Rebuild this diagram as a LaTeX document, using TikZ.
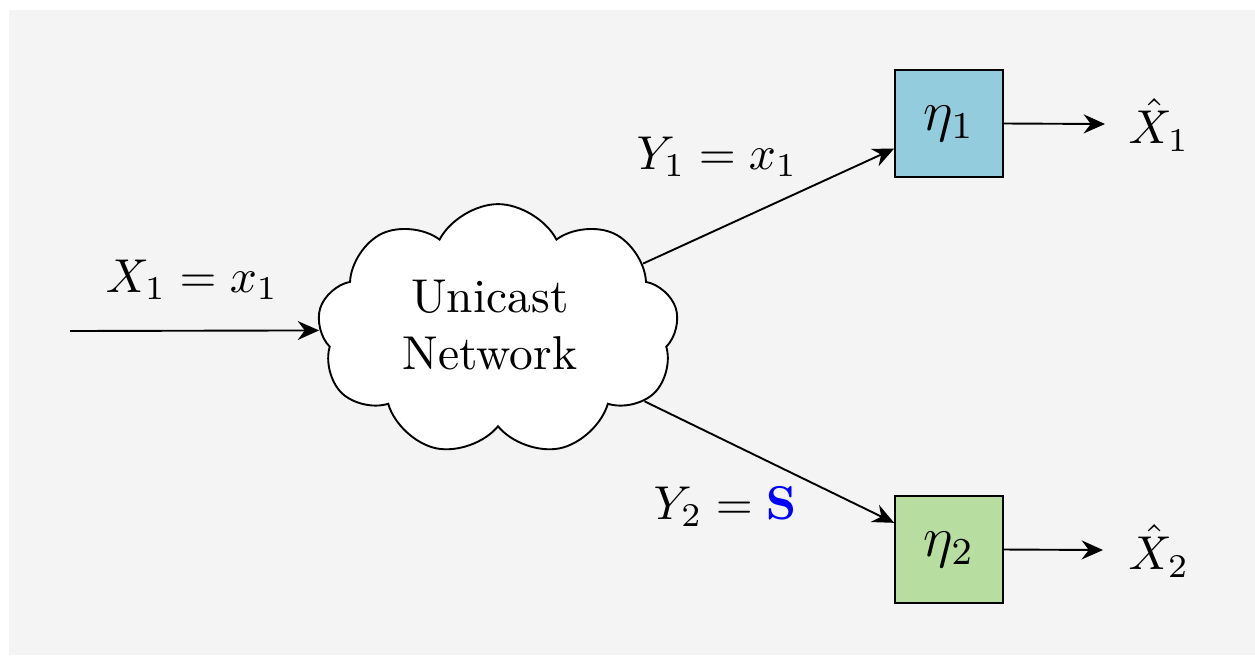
\documentclass[tikz,border=0pt]{standalone}
\usetikzlibrary{shapes.symbols,arrows.meta}
\definecolor{bgray}{RGB}{244,244,244}
\definecolor{boxblue}{RGB}{147,205,221}
\definecolor{boxgreen}{RGB}{183,221,160}
\begin{document}
\begin{tikzpicture}[x=0.2105pt,y=-0.2105pt,
  >={Stealth[length=4.5pt,width=4pt,inset=1.5pt]},
  blk/.style={draw, minimum width=22.7pt, minimum height=22.7pt, inner sep=0pt},
  lbl/.style={inner sep=0pt},
  link/.style={->, line width=0.4pt}]
\useasboundingbox (0,0) rectangle (1255,655);
\fill[bgray] (9,10) rectangle (1255,655);

% network cloud
\node[cloud, cloud puffs=9, cloud puff arc=125, cloud ignores aspect,
      draw, fill=white, minimum width=76pt, minimum height=53pt,
      align=center, inner sep=1pt, shape border rotate=10] (net) at (498,330) {};
\node[lbl, align=center] (nt) at (490,325) {Unicast\\Network};

% decoders
\node[blk, fill=boxblue]  (b1) at (949,123.5) {\large$\eta_1$};
\node[blk, fill=boxgreen] (b2) at (949,549.5) {\large$\eta_2$};

% labels
\node[lbl] (lx) at (192,280) {$X_1 = x_1$};
\node[lbl] (ly1) at (717,157) {$Y_1 = x_1$};
\node[lbl] (ly2) at (725,507) {$Y_2 = \textcolor{blue}{\mathbf{S}}$};
\node[lbl] (o1) at (1159,125) {$\hat{X}_1$};
\node[lbl] (o2) at (1159,551) {$\hat{X}_2$};

% connectors
\coordinate (in) at (70,331);
\coordinate (e1) at (1105,124);
\coordinate (e2) at (1103,550);
\draw[link] (in) -- (net);
\draw[link] (net) -- (b1);
\draw[link] (net) -- (b2);
\draw[link] (b1.east) -- (e1);
\draw[link] (b2.east) -- (e2);
\end{tikzpicture}
\end{document}
